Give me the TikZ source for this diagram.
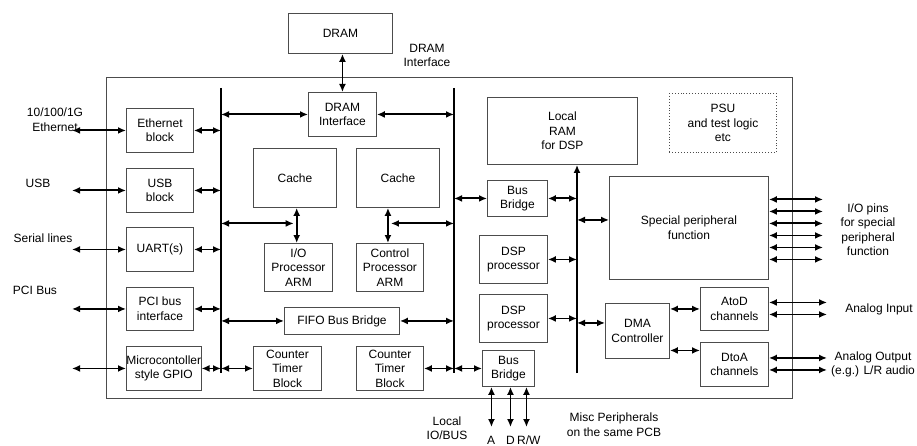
\documentclass[tikz,border=0pt]{standalone}
\usepackage{fontspec}
\setmainfont{Liberation Sans}
\usetikzlibrary{arrows.meta,calc}
\begin{document}
\begin{tikzpicture}[x=1pt,y=-1pt,
  font=\fontsize{12}{14.5}\selectfont,
  blk/.style={draw=black!70, line width=0.9pt, inner sep=0pt, align=center, anchor=north west},
  lbl/.style={inner sep=0pt, align=center},
  arr/.style={{Latex[length=8pt,width=7pt]}-{Latex[length=8pt,width=7pt]}, line width=1.9pt},
  bus/.style={line width=2.2pt}]
\useasboundingbox (0,0) rectangle (917,446);

% chip outline
\node[blk, minimum width=686pt, minimum height=321pt] (chip) at (106,77) {};

% blocks
\node[blk, minimum width=104pt, minimum height=40pt] (dram) at (288,13) {DRAM};
\node[blk, minimum width=67pt, minimum height=44pt] (eth) at (126,108) {Ethernet\\block};
\node[blk, minimum width=67pt, minimum height=44pt] (usb) at (126,168) {USB\\block};
\node[blk, minimum width=67pt, minimum height=44pt] (uart) at (126,227) {UART(s)};
\node[blk, minimum width=67pt, minimum height=43pt] (pci) at (126,287) {PCI bus\\interface};
\node[blk, minimum width=67pt, minimum height=44pt] (gpio) at (126,346) {Microcontoller\\style GPIO};
\node[blk, minimum width=68pt, minimum height=44pt] (di) at (308,92) {DRAM\\Interface};
\node[blk, minimum width=83pt, minimum height=59pt] (c1) at (253,148) {Cache};
\node[blk, minimum width=83pt, minimum height=59pt] (c2) at (356,148) {Cache};
\node[blk, minimum width=68pt, minimum height=48pt] (io) at (264,243) {I/O\\Processor\\ARM};
\node[blk, minimum width=67pt, minimum height=48pt] (cp) at (356,243) {Control\\Processor\\ARM};
\node[blk, minimum width=115pt, minimum height=27pt] (fifo) at (284,307) {FIFO Bus Bridge};
\node[blk, minimum width=68pt, minimum height=44pt] (ct1) at (253,346) {Counter\\Timer\\Block};
\node[blk, minimum width=67pt, minimum height=44pt] (ct2) at (356,346) {Counter\\Timer\\Block};
\node[blk, minimum width=150pt, minimum height=67pt] (ram) at (487,97) {Local\\RAM\\for DSP};
\node[blk, dotted, minimum width=107pt, minimum height=59pt] (psu) at (669,93) {PSU\\and test logic\\etc};
\node[blk, minimum width=60pt, minimum height=36pt] (bb1) at (487,180) {Bus\\Bridge};
\node[blk, minimum width=68pt, minimum height=48pt] (dsp1) at (479,235) {DSP\\processor};
\node[blk, minimum width=68pt, minimum height=48pt] (dsp2) at (479,294) {DSP\\processor};
\node[blk, minimum width=52pt, minimum height=36pt] (bb2) at (482,350) {Bus\\Bridge};
\node[blk, minimum width=159pt, minimum height=103pt] (sp) at (609,176) {Special peripheral\\function};
\node[blk, minimum width=64pt, minimum height=55pt] (dma) at (605,303) {DMA\\Controller};
\node[blk, minimum width=68pt, minimum height=43pt] (atod) at (700,287) {AtoD\\channels};
\node[blk, minimum width=68pt, minimum height=44pt] (dtoa) at (700,342) {DtoA\\channels};

% labels
\node[lbl] (ldi) at (427,55.5) {DRAM\\Interface};
\node[lbl] (leth) at (55,119.5) {10/100/1G\\Ethernet};
\node[lbl] (lusb) at (38,183) {USB};
\node[lbl] (lser) at (43,238) {Serial lines};
\node[lbl] (lpci) at (35,290) {PCI Bus};
\node[lbl] (lio) at (868,229.5) {I/O pins\\for special\\peripheral\\function};
\node[lbl] (lai) at (879,309) {Analog Input};
\node[lbl] (lao) at (873,364.5) {Analog Output\\(e.g.) L/R audio};
\node[lbl] (lloc) at (447,428) {Local\\IO/BUS};
\node[lbl] (la) at (491,440) {A};
\node[lbl] (ld) at (510.5,440) {D};
\node[lbl, anchor=west] (lrw) at (517,440) {R/W};
\node[lbl] (lmisc) at (614,424.5) {Misc Peripherals\\on the same PCB};

% buses
\coordinate (bLt) at (221,88); \coordinate (bL) at (221,373);
\coordinate (bMt) at (454,88); \coordinate (bM) at (454,373);
\coordinate (bR) at (577,373);
\draw[bus] (bLt) -- (bL);
\draw[bus] (bMt) -- (bM);
\draw[bus, -{Latex[length=8pt,width=7pt]}] (bR) -- (bR |- ram.south);

% free ends
\coordinate (xL) at (72,0);
\coordinate (xR1) at (823,0);
\coordinate (xR2) at (827,0);
\coordinate (yB) at (0,427);

% external left
\foreach \n in {eth,usb,uart,pci,gpio}{
  \draw[arr] (\n.west -| xL) -- (\n.west);
  \draw[arr] (\n.east) -- (\n.east -| bL);
}

% DRAM
\draw[arr] (di.north |- dram.south) -- (di.north);
\draw[arr] (di.west -| bL) -- (di.west);
\draw[arr] (di.east) -- (di.east -| bM);

% caches / processors
\coordinate (j1) at ($(c1.south)!0.5!(io.north)+(0,-2)$);
\coordinate (j2) at ($(cp.north |- c2.south)!0.5!(cp.north)+(-2,-2)$);
\draw[arr] (j1 |- c1.south) -- (j1 |- io.north);
\draw[arr] (j2 |- c2.south) -- (j2 |- cp.north);
\draw[arr, shorten >=3pt] (j1 -| bL) -- (j1);
\draw[arr, shorten <=3pt] (j2) -- (j2 -| bM);

% FIFO, counters
\draw[arr] (fifo.west -| bL) -- (fifo.west);
\draw[arr] (fifo.east) -- (fifo.east -| bM);
\draw[arr] (ct1.west -| bL) -- (ct1.west);
\draw[arr] (ct2.east) -- (ct2.east -| bM);

% DSP side
\draw[arr] (bb1.west -| bM) -- (bb1.west);
\draw[arr] (bb1.east) -- (bb1.east -| bR);
\draw[arr] (dsp1.east) -- (dsp1.east -| bR);
\draw[arr] (dsp2.east) -- (dsp2.east -| bR);
\draw[arr] (bb2.west -| bM) -- (bb2.west);
\coordinate (spw) at ($(sp.west)+(0,-8)$);
\draw[arr] (spw -| bR) -- (spw);
\coordinate (dmaw) at ($(dma.west)+(0,-8)$);
\draw[arr] (dmaw -| bR) -- (dmaw);
\draw[arr] (atod.west -| dma.east) -- (atod.west);
\coordinate (dtw) at ($(dtoa.west)+(0,-14)$);
\draw[arr] (dtw -| dma.east) -- (dtw);

% special peripheral pins
\foreach \o in {-28.5,-16.5,-4.5,7.5,19.5,31.5}{
  \coordinate (pin) at ($(sp.east)+(0,\o)$);
  \draw[arr] (pin) -- (pin -| xR1);
}
\foreach \o in {-6.5,5.5}{
  \coordinate (pa) at ($(atod.east)+(0,\o)$);
  \draw[arr] (pa) -- (pa -| xR2);
  \coordinate (pd) at ($(dtoa.east)+(0,\o)$);
  \draw[arr] (pd) -- (pd -| xR2);
}

% local bus
\foreach \o in {-17,2,18}{
  \coordinate (pb) at ($(bb2.south)+(\o,0)$);
  \draw[arr] (pb) -- (pb |- yB);
}
\end{tikzpicture}
\end{document}
